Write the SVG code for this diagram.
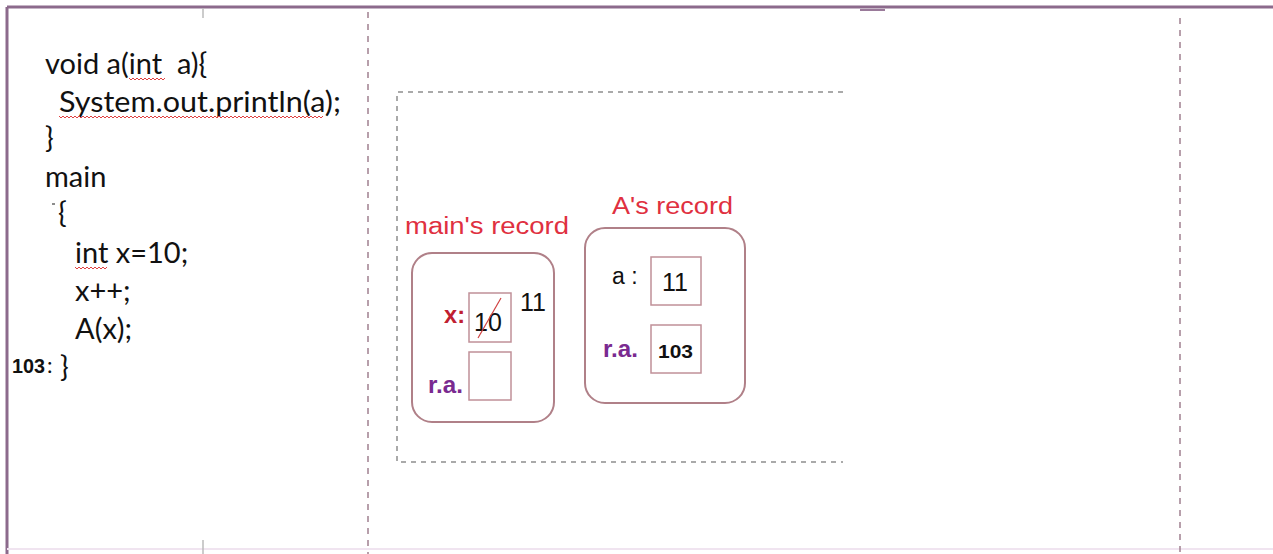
<svg xmlns="http://www.w3.org/2000/svg" width="1273" height="554" viewBox="0 0 1273 554">
<defs>
<style>
.code{font-family:"Lato","Open Sans","Liberation Sans",sans-serif;font-size:29px;fill:#111}
.lbl{font-family:"Liberation Sans",Arial,sans-serif;font-size:23px;fill:#e03040}
.rec{fill:#fff;stroke:#b08088;stroke-width:2}
.cell{fill:#fff;stroke:#c09098;stroke-width:1.5}
.ra{font-family:"Liberation Sans",Arial,sans-serif;font-size:23px;font-weight:bold;fill:#7a2a90}
.val{font-family:"Liberation Sans",Arial,sans-serif;font-size:25px;fill:#111}
.sq{fill:none;stroke:#e04040;stroke-width:1}
.vd{stroke:#a08090;stroke-width:1.5;stroke-dasharray:6,6;fill:none}
.gd{stroke:#aaa;stroke-width:2;stroke-dasharray:5,5;fill:none}
</style>
</defs>
<rect width="1273" height="554" fill="#fff"/>
<g id="frame">
<line x1="7" y1="7" x2="1273" y2="7" stroke="#8c6a8c" stroke-width="3"/>
<line x1="7" y1="7" x2="7" y2="554" stroke="#8c6a8c" stroke-width="3"/>
<line x1="7" y1="549" x2="1273" y2="549" stroke="#f0e4f0" stroke-width="2"/>
<line x1="860" y1="10" x2="885" y2="10" stroke="#9a7a9a" stroke-width="2"/>
<line x1="203" y1="8" x2="203" y2="18" stroke="#bbb" stroke-width="1.5"/>
<line x1="203" y1="540" x2="203" y2="554" stroke="#bbb" stroke-width="1.5"/>
<line class="vd" x1="368" y1="12" x2="368" y2="554"/>
<line class="vd" x1="1180" y1="18" x2="1180" y2="554"/>
<path class="gd" d="M843,92 H397 V462 H843"/>
</g>
<g id="code">
<text class="code" x="45" y="74" xml:space="preserve">void a(int  a){</text>
<text class="code" x="59" y="112" textLength="282" lengthAdjust="spacingAndGlyphs">System.out.println(a);</text>
<text class="code" x="45" y="148">}</text>
<text class="code" x="45" y="187">main</text>
<line x1="52" y1="204" x2="55" y2="204" stroke="#666" stroke-width="1.5"/>
<text class="code" x="58" y="223">{</text>
<text class="code" x="75" y="263">int x=10;</text>
<text class="code" x="75" y="301">x++;</text>
<text class="code" x="75" y="339">A(x);</text>
<text x="12" y="373" textLength="33" lengthAdjust="spacingAndGlyphs" style="font-family:'Liberation Sans',Arial,sans-serif;font-size:21px;font-weight:bold;fill:#111">103</text>
<text class="code" x="47" y="373" style="font-size:22px">:</text>
<text class="code" x="60" y="377">}</text>
<path class="sq" d="M129,78 l2,2 l2,-2 l2,2 l2,-2 l2,2 l2,-2 l2,2 l2,-2 l2,2 l2,-2 l2,2 l2,-2 l2,2 l2,-2 l2,2 l2,-2 l2,2 l2,-2"/>
<path class="sq" d="M59,116 l2,2 l2,-2 l2,2 l2,-2 l2,2 l2,-2 l2,2 l2,-2 l2,2 l2,-2 l2,2 l2,-2 l2,2 l2,-2 l2,2 l2,-2 l2,2 l2,-2 l2,2 l2,-2 l2,2 l2,-2 l2,2 l2,-2 l2,2 l2,-2 l2,2 l2,-2 l2,2 l2,-2 l2,2 l2,-2 l2,2 l2,-2 l2,2 l2,-2 l2,2 l2,-2 l2,2 l2,-2 l2,2 l2,-2 l2,2 l2,-2 l2,2 l2,-2 l2,2 l2,-2 l2,2 l2,-2 l2,2 l2,-2 l2,2 l2,-2 l2,2 l2,-2 l2,2 l2,-2 l2,2 l2,-2 l2,2 l2,-2 l2,2 l2,-2 l2,2 l2,-2 l2,2 l2,-2 l2,2 l2,-2 l2,2 l2,-2 l2,2 l2,-2 l2,2 l2,-2 l2,2 l2,-2 l2,2 l2,-2 l2,2 l2,-2 l2,2 l2,-2 l2,2 l2,-2 l2,2 l2,-2 l2,2 l2,-2 l2,2 l2,-2 l2,2 l2,-2 l2,2 l2,-2 l2,2 l2,-2 l2,2 l2,-2 l2,2 l2,-2 l2,2 l2,-2 l2,2 l2,-2 l2,2 l2,-2 l2,2 l2,-2 l2,2 l2,-2 l2,2 l2,-2 l2,2 l2,-2 l2,2 l2,-2 l2,2 l2,-2 l2,2 l2,-2 l2,2 l2,-2 l2,2 l2,-2 l2,2 l2,-2 l2,2 l2,-2 l2,2 l2,-2"/>
<path class="sq" d="M75,267 l2,2 l2,-2 l2,2 l2,-2 l2,2 l2,-2 l2,2 l2,-2 l2,2 l2,-2 l2,2 l2,-2 l2,2 l2,-2 l2,2 l2,-2"/>
</g>
<g id="main-record">
<text class="lbl" x="405" y="234" textLength="164" lengthAdjust="spacingAndGlyphs">main's record</text>
<rect class="rec" x="412" y="253" width="142" height="169" rx="20"/>
<text x="444" y="323" textLength="21" lengthAdjust="spacingAndGlyphs" style="font-family:'Liberation Sans',Arial,sans-serif;font-size:23px;font-weight:bold;fill:#c02030">x:</text>
<rect class="cell" x="469" y="293" width="42" height="49"/>
<text class="val" x="474" y="331">10</text>
<line x1="478" y1="338" x2="501" y2="298" stroke="#d04040" stroke-width="1.2"/>
<text class="val" x="520" y="311">11</text>
<text class="ra" x="428" y="393" textLength="35" lengthAdjust="spacingAndGlyphs">r.a.</text>
<rect class="cell" x="469" y="352" width="42" height="48"/>
</g>
<g id="a-record">
<text class="lbl" x="612" y="214" textLength="121" lengthAdjust="spacingAndGlyphs">A's record</text>
<rect class="rec" x="585" y="228" width="160" height="175" rx="20"/>
<text class="val" x="612" y="284" style="font-size:23px" xml:space="preserve">a :</text>
<rect class="cell" x="651" y="257" width="50" height="48"/>
<text class="val" x="662" y="291">11</text>
<text class="ra" x="603" y="357" textLength="35" lengthAdjust="spacingAndGlyphs">r.a.</text>
<rect class="cell" x="651" y="325" width="50" height="48"/>
<text x="658" y="358" textLength="35" lengthAdjust="spacingAndGlyphs" style="font-family:'Liberation Sans',Arial,sans-serif;font-size:19px;font-weight:bold;fill:#111">103</text>
</g>
<g id="connectors"></g>
</svg>
